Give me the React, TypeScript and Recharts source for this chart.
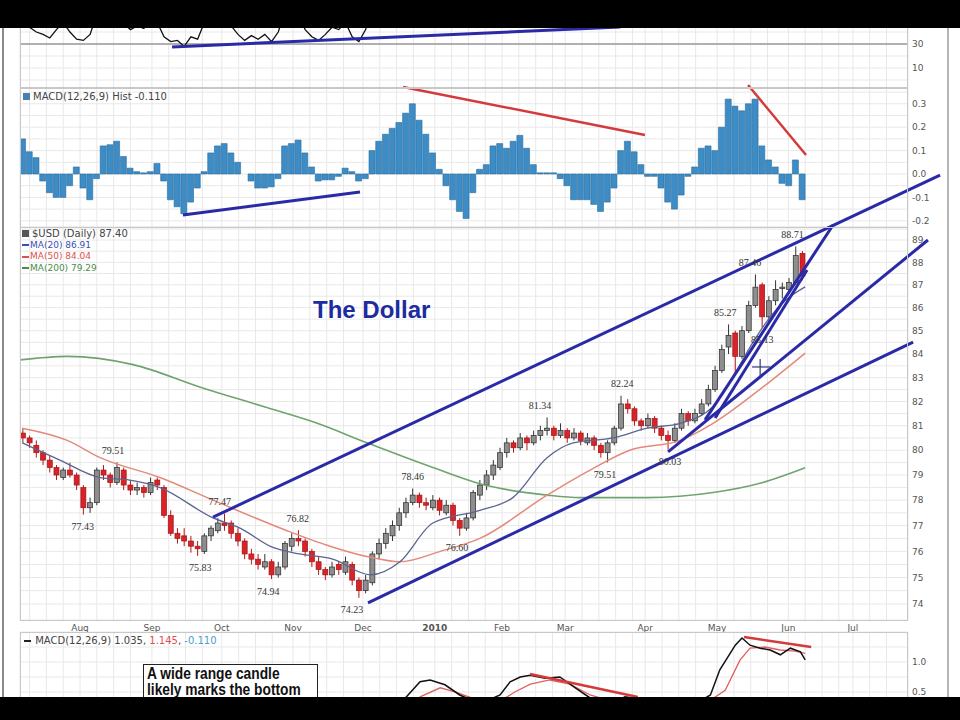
import React from 'react';
import {
  ComposedChart,
  Bar,
  Line,
  Scatter,
  XAxis,
  YAxis,
  CartesianGrid,
  ReferenceLine,
} from 'recharts';

// 2-trading-day candles, late Jul 2009 .. mid Jun 2010 (index k = candle number)
const opens = [
  80.7, 80.5, 80.2, 79.9, 79.6, 79.3, 78.9, 79.2, 79.0, 78.5,
  77.7, 77.9, 79.2, 79.0, 78.7, 79.2, 78.6, 78.4, 78.5, 78.3,
  78.8, 78.5, 77.4, 76.7, 76.6, 76.4, 76.2, 76.0, 76.6, 76.8,
  77.1, 77.1, 76.7, 76.4, 75.9, 75.7, 75.4, 75.6, 75.1, 75.4,
  76.2, 76.5, 76.4, 76.0, 75.6, 75.3, 75.1, 75.5, 75.2, 75.5,
  74.9, 74.5, 74.8, 75.9, 76.3, 76.6, 77.0, 77.5, 77.9, 78.2,
  77.9, 77.7, 78.0, 77.5, 77.8, 77.2, 76.9, 77.3, 78.2, 78.6,
  79.0, 79.3, 79.9, 80.3, 80.1, 80.5, 80.3, 80.6, 80.8, 80.9,
  80.6, 80.8, 80.5, 80.7, 80.3, 80.5, 80.2, 79.9, 80.3, 80.9,
  81.9, 81.7, 81.2, 81.0, 81.3, 80.9, 80.6, 80.4, 80.9, 81.5,
  81.2, 81.5, 81.9, 82.5, 83.3, 84.3, 84.9, 83.9, 85.0, 86.1,
  87.0, 85.6, 86.3, 86.9, 86.8, 87.1, 88.4,
];
const highs = [
  80.9, 80.6, 80.4, 80.0, 79.8, 79.4, 79.3, 79.5, 79.1, 78.6,
  78.1, 79.3, 79.4, 79.1, 79.51, 79.3, 78.8, 78.7, 78.6, 78.9,
  78.9, 78.6, 77.6, 76.9, 76.9, 76.6, 76.4, 76.7, 77.0, 77.3,
  77.47, 77.2, 76.9, 76.5, 76.1, 75.9, 75.9, 75.7, 75.6, 76.4,
  76.7, 76.82, 76.5, 76.1, 75.8, 75.4, 75.6, 75.6, 75.8, 75.6,
  75.0, 75.1, 76.0, 76.5, 76.9, 77.2, 77.7, 78.1, 78.46, 78.3,
  78.1, 78.2, 78.1, 78.0, 77.9, 77.3, 77.5, 78.4, 78.8, 79.2,
  79.6, 80.1, 80.5, 80.4, 80.7, 80.6, 80.8, 81.0, 81.34, 81.0,
  81.1, 80.9, 80.9, 80.8, 80.7, 80.6, 80.3, 80.4, 81.0, 82.24,
  82.1, 81.8, 81.3, 81.5, 81.4, 81.0, 80.8, 81.1, 81.7, 81.6,
  81.7, 82.1, 82.7, 83.5, 84.4, 85.27, 85.0, 85.2, 86.3, 87.46,
  87.1, 86.5, 87.2, 87.1, 87.3, 88.71, 88.5,
];
const lows = [
  80.3, 80.1, 79.7, 79.4, 79.1, 78.8, 78.8, 78.9, 78.4, 77.43,
  77.5, 77.8, 78.8, 78.5, 78.6, 78.4, 78.2, 78.2, 78.1, 78.2,
  78.4, 77.3, 76.6, 76.3, 76.2, 75.95, 75.83, 75.9, 76.4, 76.7,
  76.8, 76.5, 76.2, 75.7, 75.5, 75.3, 75.3, 74.94, 75.0, 75.3,
  76.0, 76.2, 75.8, 75.4, 75.1, 74.9, 75.0, 75.1, 75.1, 74.7,
  74.23, 74.4, 74.7, 75.7, 76.1, 76.4, 76.8, 77.3, 77.8, 77.7,
  77.6, 77.6, 77.4, 77.4, 77.0, 76.6, 76.8, 77.2, 78.0, 78.4,
  78.8, 79.2, 79.7, 79.9, 80.0, 80.0, 80.2, 80.4, 80.6, 80.4,
  80.5, 80.3, 80.4, 80.2, 80.2, 80.0, 79.7, 79.51, 80.2, 80.8,
  81.5, 81.0, 80.8, 80.9, 80.7, 80.4, 80.03, 80.3, 80.8, 81.0,
  81.1, 81.4, 81.8, 82.4, 83.2, 84.0, 83.2, 83.8, 84.9, 86.0,
  85.13, 85.4, 86.1, 86.4, 86.6, 87.0, 87.2,
];
const closes = [
  80.5, 80.3, 79.9, 79.6, 79.3, 79.0, 79.2, 79.0, 78.6, 77.7,
  77.9, 79.2, 79.0, 78.7, 79.3, 78.6, 78.4, 78.5, 78.3, 78.7,
  78.6, 77.4, 76.7, 76.5, 76.4, 76.2, 76.1, 76.6, 76.9, 77.1,
  77.0, 76.7, 76.4, 75.9, 75.7, 75.5, 75.6, 75.1, 75.4, 76.3,
  76.5, 76.4, 76.0, 75.6, 75.3, 75.1, 75.4, 75.3, 75.6, 74.9,
  74.5, 74.9, 75.9, 76.3, 76.7, 77.0, 77.5, 77.9, 78.2, 77.9,
  77.8, 78.0, 77.6, 77.8, 77.2, 76.9, 77.3, 78.3, 78.6, 79.0,
  79.4, 79.9, 80.3, 80.1, 80.5, 80.3, 80.6, 80.8, 80.9, 80.6,
  80.8, 80.5, 80.7, 80.4, 80.5, 80.2, 79.9, 80.3, 80.9, 81.9,
  81.7, 81.2, 81.0, 81.3, 80.9, 80.6, 80.4, 80.9, 81.5, 81.2,
  81.5, 81.9, 82.5, 83.3, 84.2, 84.8, 83.9, 85.0, 86.1, 86.9,
  85.6, 86.3, 86.8, 86.9, 87.1, 88.3, 87.4,
];
const macdHist = [
  0.15, 0.095, 0.07, -0.03, -0.08, -0.1, -0.1, -0.05, 0.03, -0.06,
  -0.11, -0.02, 0.12, 0.125, 0.14, 0.075, 0.025, 0.01, 0.005, 0.01,
  0.045, -0.03, -0.11, -0.14, -0.17, -0.12, -0.06, 0.01, 0.09, 0.12,
  0.13, 0.09, 0.05, 0.0, -0.03, -0.06, -0.06, -0.055, -0.02, 0.12,
  0.13, 0.145, 0.09, 0.03, -0.03, -0.025, -0.025, -0.01, 0.025, 0.01,
  -0.03, -0.02, 0.1, 0.14, 0.17, 0.195, 0.22, 0.26, 0.3, 0.23,
  0.17, 0.09, 0.02, -0.05, -0.11, -0.16, -0.19, -0.08, 0.02, 0.04,
  0.12, 0.13, 0.11, 0.14, 0.165, 0.11, 0.04, 0.005, 0.005, 0.005,
  -0.02, -0.05, -0.11, -0.11, -0.11, -0.13, -0.16, -0.12, -0.06, 0.1,
  0.14, 0.095, 0.04, -0.01, -0.01, -0.06, -0.12, -0.15, -0.09, -0.01,
  0.03, 0.11, 0.12, 0.1, 0.2, 0.32, 0.29, 0.27, 0.3, 0.32,
  0.12, 0.06, 0.03, -0.04, -0.05, 0.06, -0.11,
];
const rsi = [
  52, 44, 40, 38, 35, 42, 48, 40, 34, 33, 38,
  55, 52, 48, 56, 47, 42, 45, 43, 52, 48,
  36, 32, 33, 28, 36, 34, 48, 55, 58, 56,
  45, 38, 33, 37, 34, 38, 32, 40, 58, 60,
  55, 42, 36, 33, 38, 44, 42, 48, 36, 32, 42,
  62, 66, 68, 70, 72, 74, 75,
  66, 62, 64, 56, 58, 50, 44, 52,
  62, 66, 68, 70, 72, 74, 70, 72, 68, 70, 72, 73,
  66, 68, 62, 64, 58, 60, 54, 48, 56, 62,
  70, 66, 58, 54, 58, 52, 48, 46,
  56, 62, 58, 62, 66, 70, 74, 78, 80, 66, 74, 78, 80, 64, 68, 72, 70, 72, 78, 62,
];

// moving averages read at a few points [k, value]
const ma20Pts = [
  [-0.1, 80.3], [5.5, 79.6], [11.5, 78.9], [15.9, 78.8], [20.4, 78.5], [28.3, 77.3],
  [32.3, 76.9], [37.2, 76.15], [41.2, 75.9], [46.1, 75.7], [51.7, 75.1], [56.1, 75.6],
  [61.0, 77.1], [68.0, 77.6], [72.9, 78.1], [78.0, 79.7], [81.9, 80.3], [87.8, 80.5],
  [92.9, 80.9], [97.8, 81.1], [102.7, 81.8], [105.2, 82.8], [108.2, 84.3], [111.2, 85.6],
  [113.4, 86.3], [116.4, 86.91],
];
const ma50Pts = [
  [-0.1, 80.9], [6.6, 80.4], [11.5, 79.7], [20.4, 78.9], [28.3, 78.0], [39.3, 76.8],
  [45.7, 76.2], [51.2, 75.8], [56.1, 75.6], [62.1, 76.0], [68.0, 76.5], [78.0, 78.2],
  [84.4, 79.2], [90.3, 80.0], [97.8, 80.4], [102.7, 81.1], [110.1, 82.6], [116.4, 84.04],
];
const ma200Pts = [
  [-0.4, 83.75], [6.6, 83.9], [16.4, 83.55], [26.4, 82.6], [36.3, 81.75], [43.8, 81.1],
  [51.2, 80.3], [61.0, 79.3], [68.0, 78.65], [78.0, 78.2], [82.9, 78.1], [92.9, 78.1],
  [102.7, 78.3], [110.1, 78.7], [116.4, 79.29],
];
const macdPts = [
  [-0.1, 0.1], [5.5, -0.2], [11.5, -0.1], [17.4, -0.2], [23.4, -0.5], [29.3, -0.4],
  [35.3, -0.55], [41.2, -0.45], [47.2, -0.55], [50.2, -0.6], [53.1, -0.2], [56.1, 0.3],
  [59.1, 0.67], [60.6, 0.7], [62.8, 0.62], [65.0, 0.45], [68.0, 0.3], [71.0, 0.45],
  [72.5, 0.67], [74.0, 0.75], [75.5, 0.78], [77.7, 0.73], [79.9, 0.75], [82.2, 0.57],
  [84.4, 0.4], [87.4, 0.3], [89.6, 0.42], [91.8, 0.38], [94.8, 0.25], [97.8, 0.2],
  [100.8, 0.35], [102.3, 0.45], [103.7, 0.87], [106.0, 1.28], [107.0, 1.4], [108.2, 1.28],
  [109.7, 1.23], [111.2, 1.2], [112.7, 1.12], [114.2, 1.23], [115.7, 1.17], [116.4, 1.035],
];
const signalPts = [
  [-0.1, 0.0], [5.5, -0.1], [11.5, -0.15], [17.4, -0.2], [23.4, -0.35], [29.3, -0.45],
  [35.3, -0.45], [41.2, -0.5], [47.2, -0.5], [50.2, -0.55], [53.1, -0.4], [56.1, 0.0],
  [59.1, 0.42], [62.1, 0.57], [64.3, 0.5], [68.0, 0.35], [71.0, 0.35], [73.2, 0.5],
  [75.5, 0.63], [78.4, 0.7], [81.4, 0.63], [84.4, 0.45], [87.4, 0.35], [89.6, 0.38],
  [91.8, 0.4], [94.8, 0.35], [97.8, 0.25], [100.8, 0.25], [104.5, 0.53], [106.7, 1.03],
  [108.2, 1.23], [110.4, 1.25], [112.7, 1.2], [114.9, 1.18], [116.4, 1.145],
];

const monthTicks = [
  { k: 8.5, label: 'Aug' }, { k: 19.2, label: 'Sep' }, { k: 29.6, label: 'Oct' },
  { k: 40.2, label: 'Nov' }, { k: 50.6, label: 'Dec' }, { k: 61.3, label: '2010' },
  { k: 71.3, label: 'Feb' }, { k: 80.7, label: 'Mar' }, { k: 92.6, label: 'Apr' },
  { k: 103.3, label: 'May' }, { k: 113.9, label: 'Jun' }, { k: 123.5, label: 'Jul' },
];

const priceLabels = [
  { k: 13.4, p: 79.51, text: '79.51', pos: 'top' },
  { k: 8.9, p: 77.43, text: '77.43', pos: 'bottom' },
  { k: 26.4, p: 75.83, text: '75.83', pos: 'bottom' },
  { k: 29.3, p: 77.47, text: '77.47', pos: 'top' },
  { k: 36.5, p: 74.94, text: '74.94', pos: 'bottom' },
  { k: 40.9, p: 76.82, text: '76.82', pos: 'top' },
  { k: 48.97, p: 74.23, text: '74.23', pos: 'bottom' },
  { k: 58.0, p: 78.46, text: '78.46', pos: 'top' },
  { k: 64.6, p: 76.6, text: '76.60', pos: 'bottom' },
  { k: 76.95, p: 81.34, text: '81.34', pos: 'top' },
  { k: 86.6, p: 79.51, text: '79.51', pos: 'bottom' },
  { k: 89.2, p: 82.24, text: '82.24', pos: 'top' },
  { k: 96.3, p: 80.03, text: '80.03', pos: 'bottom' },
  { k: 104.5, p: 85.27, text: '85.27', pos: 'top' },
  { k: 108.2, p: 87.46, text: '87.46', pos: 'top' },
  { k: 110.0, p: 85.13, text: '85.13', pos: 'bottom' },
  { k: 114.5, p: 88.71, text: '88.71', pos: 'top' },
];

// hand-drawn annotation lines [k1, v1, k2, v2]
const priceTrendLines = [
  [28.29, 77.33, 136.47, 91.98],
  [51.35, 74.04, 132.46, 84.51],
  [96.0, 79.93, 134.67, 89.0],
  [101.5, 81.24, 120.55, 89.68],
  [103.0, 81.32, 116.68, 87.66],
];
const crossMark = [
  [108.5, 83.45, 111.2, 83.45],
  [109.7, 83.79, 109.7, 83.03],
];
const histBlueLines = [[23.82, -0.175, 50.16, -0.077]];
const histRedLines = [
  [56.56, 0.372, 92.57, 0.167],
  [107.9, 0.38, 116.53, 0.081],
];
const rsiBlueLines = [[22.19, 27.5, 88.9, 44.2]];
const macdRedLines = [
  [75.46, 0.8, 91.5, 0.417],
  [107.3, 1.417, 117.3, 1.25],
];

const rows = closes.map((c, i) => ({
  k: i, o: opens[i], h: highs[i], l: lows[i], c, hist: macdHist[i], rsi: rsi[i],
}));
const toPts = (a: number[][]) => a.map(([k, v]) => ({ k, v }));

const CHART_W = 950;
const AXIS_W = 30;
const MARGIN = { top: 0, right: CHART_W - 908 - AXIS_W, bottom: 0, left: 20 };
const X_DOMAIN: [number, number] = [-0.43, 131.7];
const SANS = '"DejaVu Sans", Verdana, sans-serif';
const TICK = { fontSize: 9, fill: '#555', fontFamily: SANS };
const NAVY = '#2a2aa6';
const RED = '#d43a3a';
const GRID = '#e8e8e8';
const CANDLE_W = 5;

const xTicks: number[] = [];
monthTicks.forEach((m, i) => {
  const next = i + 1 < monthTicks.length ? monthTicks[i + 1].k : X_DOMAIN[1];
  for (let g = m.k; g < next - 1; g += 2.5) xTicks.push(g);
});
for (let g = monthTicks[0].k - 2.5; g > X_DOMAIN[0]; g -= 2.5) xTicks.push(g);
xTicks.sort((a, b) => a - b);

const priceTicks: number[] = [];
for (let p = 74; p <= 89.5; p += 0.5) priceTicks.push(p);

const CandleShape = (props: any) => {
  const { x, y, width, height, payload } = props;
  if (x == null || y == null || height == null) return <g />;
  const top = Math.min(y, y + height);
  const H = Math.abs(height);
  const { o, h, l, c } = payload;
  const span = Math.log(h) - Math.log(l);
  const py = (p: number) => top + (span > 0 ? (H * (Math.log(h) - Math.log(p))) / span : 0);
  const up = c >= o;
  const cx = x + (width || 0) / 2;
  const bTop = py(Math.max(o, c));
  const bBot = py(Math.min(o, c));
  return (
    <g>
      <line x1={cx} x2={cx} y1={top} y2={top + H} stroke={up ? '#333' : '#b01818'} strokeWidth={1} />
      <rect
        x={cx - CANDLE_W / 2}
        y={bTop}
        width={CANDLE_W}
        height={Math.max(1.5, bBot - bTop)}
        fill={up ? '#8e8e8e' : '#d8232a'}
        stroke={up ? '#2a2a2a' : '#a01515'}
        strokeWidth={0.7}
      />
    </g>
  );
};

const PriceLabel = (props: any) => {
  const { cx, cy, payload } = props;
  const dy = payload.pos === 'top' ? -8.5 : 15.5;
  return (
    <text x={cx} y={cy + dy} textAnchor="middle" fontSize={10} fontFamily='"Liberation Serif", serif' fill="#333">
      {payload.text}
    </text>
  );
};

const MonthTick = (props: any) => {
  const { x, y, payload } = props;
  const m = monthTicks.find((t) => Math.abs(t.k - payload.value) < 1e-6);
  if (!m) return <g />;
  return (
    <text
      x={x}
      y={y + 11}
      textAnchor="middle"
      fontSize={9}
      fontFamily={SANS}
      fill="#555"
      fontWeight={m.label === '2010' ? 'bold' : 'normal'}
    >
      {m.label}
    </text>
  );
};

const segs = (lines: number[][], color: string, w: number, key: string) =>
  lines.map(([k1, v1, k2, v2], i) => (
    <ReferenceLine
      key={key + i}
      segment={[{ x: k1, y: v1 }, { x: k2, y: v2 }]}
      stroke={color}
      strokeWidth={w}
      ifOverflow="visible"
    />
  ));

const hiddenX = (
  <XAxis type="number" dataKey="k" domain={X_DOMAIN} allowDataOverflow ticks={xTicks} interval={0} hide />
);

const box = (left: number, top: number, width: number, height: number) => ({
  position: 'absolute' as const,
  left,
  top,
  width,
  height,
  border: '1px solid #c8c8c8',
  boxSizing: 'border-box' as const,
  pointerEvents: 'none' as const,
});

const legendDash = (color: string) => (
  <span style={{ display: 'inline-block', width: 7, height: 2, background: color, verticalAlign: 'middle', marginRight: 1 }} />
);

export default function App() {
  return (
    <div style={{ position: 'absolute', left: 0, top: 0, width: 960, height: 720, background: '#fff', overflow: 'hidden' }}>
      <style>{'.recharts-surface{overflow:visible}'}</style>

      {/* RSI panel (mostly cut off) */}
      <div style={{ position: 'absolute', left: 0, top: 0 }}>
        <ComposedChart width={CHART_W} height={88} data={rows} margin={MARGIN}>
          <CartesianGrid stroke={GRID} />
          {hiddenX}
          <YAxis
            orientation="right"
            domain={[-6.67, 66.67]}
            allowDataOverflow
            ticks={[0, 10, 20, 30, 40, 50, 60]}
            interval={0}
            width={AXIS_W}
            tickSize={0}
            tickMargin={4}
            axisLine={false}
            tick={TICK}
            tickFormatter={(v: number) => (v === 10 || v === 30 ? String(v) : '')}
          />
          <ReferenceLine y={30} stroke="#9a9a9a" strokeWidth={1.5} />
          <Line dataKey="rsi" type="linear" stroke="#111" strokeWidth={1.3} dot={false} isAnimationActive={false} />
          {segs(rsiBlueLines, NAVY, 3, 'rsi')}
        </ComposedChart>
      </div>

      {/* MACD histogram panel */}
      <div style={{ position: 'absolute', left: 0, top: 88 }}>
        <ComposedChart width={CHART_W} height={139} data={rows} margin={MARGIN}>
          <CartesianGrid stroke={GRID} />
          {hiddenX}
          <YAxis
            orientation="right"
            domain={[-0.2265, 0.3675]}
            allowDataOverflow
            ticks={[-0.2, -0.15, -0.1, -0.05, 0, 0.05, 0.1, 0.15, 0.2, 0.25, 0.3, 0.35]}
            interval={0}
            width={AXIS_W}
            tickSize={0}
            tickMargin={4}
            axisLine={false}
            tick={TICK}
            tickFormatter={(v: number) => (Math.abs(Math.round(v * 10) - v * 10) < 1e-6 ? v.toFixed(1) : '')}
          />
          <Bar dataKey="hist" barSize={6} fill="#3d8cc6" stroke="#2a6b9c" strokeWidth={0.6} isAnimationActive={false} />
          {segs(histBlueLines, NAVY, 3, 'hb')}
          {segs(histRedLines, RED, 2.5, 'hr')}
        </ComposedChart>
      </div>

      {/* bottom MACD line panel */}
      <div style={{ position: 'absolute', left: 0, top: 632 }}>
        <ComposedChart width={CHART_W} height={88} data={rows} margin={MARGIN}>
          <CartesianGrid stroke={GRID} />
          {hiddenX}
          <YAxis
            orientation="right"
            domain={[0.033, 1.5]}
            allowDataOverflow
            ticks={[0.25, 0.5, 0.75, 1.0, 1.25]}
            interval={0}
            width={AXIS_W}
            tickSize={0}
            tickMargin={4}
            axisLine={false}
            tick={TICK}
            tickFormatter={(v: number) => (v === 0.5 || v === 1 ? v.toFixed(1) : '')}
          />
          <Line data={toPts(signalPts)} dataKey="v" type="linear" stroke="#e06060" strokeWidth={1.3} dot={false} isAnimationActive={false} />
          <Line data={toPts(macdPts)} dataKey="v" type="linear" stroke="#111" strokeWidth={1.5} dot={false} isAnimationActive={false} />
          {segs(macdRedLines, RED, 2.5, 'mr')}
        </ComposedChart>
      </div>

      {/* price panel */}
      <div style={{ position: 'absolute', left: 0, top: 227 }}>
        <ComposedChart width={CHART_W} height={413} data={rows} margin={MARGIN}>
          <CartesianGrid stroke={GRID} />
          <XAxis
            type="number"
            dataKey="k"
            domain={X_DOMAIN}
            allowDataOverflow
            ticks={xTicks}
            interval={0}
            height={20}
            tickSize={0}
            tickMargin={0}
            axisLine={false}
            tick={<MonthTick />}
          />
          <YAxis
            orientation="right"
            scale="log"
            domain={[73.4, 89.59]}
            allowDataOverflow
            ticks={priceTicks}
            interval={0}
            width={AXIS_W}
            tickSize={0}
            tickMargin={4}
            axisLine={false}
            tick={TICK}
            tickFormatter={(v: number) => (Number.isInteger(v) ? String(v) : '')}
          />
          <Line data={toPts(ma200Pts)} dataKey="v" type="monotone" stroke="#6fa46f" strokeWidth={1.6} dot={false} isAnimationActive={false} />
          <Line data={toPts(ma50Pts)} dataKey="v" type="monotone" stroke="#e38a7a" strokeWidth={1.5} dot={false} isAnimationActive={false} />
          <Line data={toPts(ma20Pts)} dataKey="v" type="monotone" stroke="#5a6590" strokeWidth={1.3} dot={false} isAnimationActive={false} />
          <Bar dataKey={(d: any) => [d.l, d.h]} barSize={5} shape={<CandleShape />} isAnimationActive={false} />
          {segs(priceTrendLines, NAVY, 3, 'pt')}
          {segs(crossMark, '#333a80', 1.2, 'cm')}
          <Scatter data={priceLabels} dataKey="p" shape={<PriceLabel />} isAnimationActive={false} />
        </ComposedChart>
      </div>

      {/* panel frames */}
      <div style={box(20, -2, 888, 90)} />
      <div style={box(20, 88, 888, 140)} />
      <div style={box(20, 227, 888, 394)} />
      <div style={box(20, 632, 888, 90)} />
      <div style={{ position: 'absolute', left: 2, top: 0, width: 2, height: 720, background: '#8a8a8a' }} />
      <div style={{ position: 'absolute', left: 947, top: 0, width: 2, height: 720, background: '#b5b5b5' }} />

      {/* texts */}
      <div style={{ position: 'absolute', left: 23, top: 91, fontFamily: SANS, fontSize: 10, color: '#444', whiteSpace: 'nowrap' }}>
        <span style={{ display: 'inline-block', width: 7, height: 7, background: '#4a7fb0', marginRight: 3 }} />
        MACD(12,26,9) Hist -0.110
      </div>
      <div style={{ position: 'absolute', left: 22, top: 228, fontFamily: SANS, fontSize: 10, color: '#444', lineHeight: '11.5px', whiteSpace: 'nowrap' }}>
        <div>
          <span style={{ display: 'inline-block', width: 7, height: 7, background: '#555', marginRight: 3 }} />
          $USD (Daily) 87.40
        </div>
        <div style={{ fontSize: 9, color: '#3a4fb4' }}>{legendDash('#3a4fb4')}MA(20) 86.91</div>
        <div style={{ fontSize: 9, color: '#e05050' }}>{legendDash('#e05050')}MA(50) 84.04</div>
        <div style={{ fontSize: 9, color: '#4c8c4c' }}>{legendDash('#4c8c4c')}MA(200) 79.29</div>
      </div>
      <div style={{ position: 'absolute', left: 313, top: 296, fontFamily: '"Liberation Sans", Arial, sans-serif', fontWeight: 'bold', fontSize: 24, color: '#1c2ca0', whiteSpace: 'nowrap' }}>
        The Dollar
      </div>
      <div style={{ position: 'absolute', left: 24, top: 635, fontFamily: SANS, fontSize: 10, color: '#444', whiteSpace: 'nowrap' }}>
        {legendDash('#222')} MACD(12,26,9) 1.035, <span style={{ color: '#e05050' }}>1.145</span>,{' '}
        <span style={{ color: '#4aa0d0' }}>-0.110</span>
      </div>
      <div
        style={{
          position: 'absolute', left: 143, top: 664, width: 175, height: 48, border: '1px solid #222',
          background: '#fff', boxSizing: 'border-box', padding: '1px 3px', overflow: 'hidden',
        }}
      >
        <div
          style={{
            transform: 'scaleX(0.86)', transformOrigin: 'left top', whiteSpace: 'nowrap',
            fontFamily: '"Liberation Sans", Arial, sans-serif', fontWeight: 'bold', fontSize: 16,
            lineHeight: '16px', color: '#111',
          }}
        >
          A wide range candle
          <br />
          likely marks the bottom
        </div>
      </div>

      {/* video letterbox bars */}
      <div style={{ position: 'absolute', left: 0, top: 0, width: 960, height: 28, background: '#000' }} />
      <div style={{ position: 'absolute', left: 0, top: 697, width: 960, height: 23, background: '#000' }} />
    </div>
  );
}
